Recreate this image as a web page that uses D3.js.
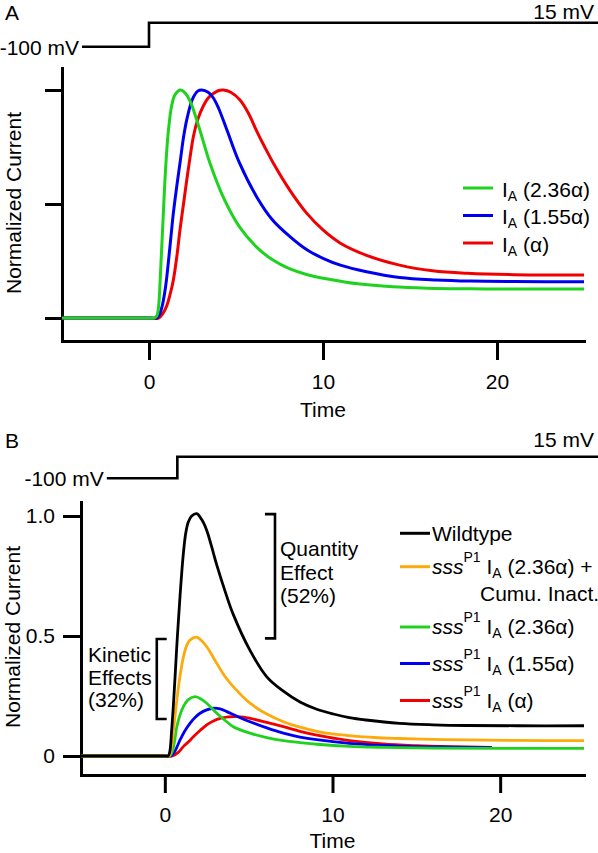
<!DOCTYPE html>
<html><head><meta charset="utf-8">
<script src="https://cdn.jsdelivr.net/npm/d3@7"></script>
<style>
html,body{margin:0;padding:0;background:#fff;}
svg{display:block;font-family:"Liberation Sans",Arial,Helvetica,sans-serif;}
text{white-space:pre;}
</style></head><body>
<svg id="chart" width="598" height="853"></svg>
<script>
// ---------------- DATA ----------------
const xDomain = [-5, 25];
const xTicks = [0, 10, 20];
const yTicks = [0, 0.5, 1];
const yTickLabelsB = ["0", "0.5", "1.0"];

// Panel A: I_A (2.36α), I_A (1.55α), I_A (α)
const tA1 = [-5,-2.5,0,0.3,0.45,0.55,0.65,0.8,0.95,1.1,1.3,1.5,1.82,2.1,2.4,2.9,3.5,4.3,5.2,6.2,7.1,8.1,9.1,10.5,12,14,16,18.5,21,25];
const vA1 = [0,0,0,0,0.01,0.05,0.18,0.42,0.65,0.81,0.93,0.98,1.0,0.985,0.945,0.83,0.68,0.525,0.40,0.31,0.255,0.215,0.19,0.168,0.15,0.137,0.131,0.128,0.127,0.127];
const tA2 = [-5,-2.5,0,0.45,0.6,0.75,0.9,1.0,1.2,1.4,1.6,1.8,2.0,2.2,2.5,2.8,3.03,3.4,3.7,4.0,4.5,5.2,6.2,7.1,8.1,9.1,10,11,12.5,14.4,16.5,18.5,21,25];
const vA2 = [0,0,0,0,0.015,0.05,0.11,0.165,0.31,0.46,0.58,0.69,0.80,0.88,0.96,0.995,1.0,0.99,0.965,0.92,0.82,0.68,0.53,0.43,0.357,0.298,0.262,0.232,0.203,0.178,0.167,0.162,0.16,0.159];
const tA3 = [-5,-2.5,0,0.55,0.8,1.0,1.2,1.4,1.6,1.78,2.0,2.17,2.35,2.55,2.8,3.12,3.4,3.7,4.0,4.27,4.7,5.23,5.7,6.19,6.65,7.14,8.1,9.06,10,11,12.5,14.4,16.3,18.3,21,25];
const vA3 = [0,0,0,0,0.02,0.05,0.10,0.167,0.27,0.386,0.51,0.605,0.70,0.795,0.87,0.93,0.965,0.985,0.998,1.0,0.99,0.956,0.9,0.82,0.75,0.68,0.56,0.46,0.386,0.328,0.275,0.232,0.207,0.196,0.19,0.189];
const legendA = ["(2.36\u03b1)", "(1.55\u03b1)", "(\u03b1)"];

// Panel B: Wildtype, sssP1 IA(2.36α)+Cumu. Inact., sssP1 IA(2.36α), sssP1 IA(1.55α), sssP1 IA(α)
const tB0 = [-5,-2.5,0,0.2,0.3,0.4,0.5,0.61,0.75,0.91,1.1,1.25,1.4,1.6,1.9,2.2,2.5,2.8,3.1,3.6,4.08,5.08,6.08,7.07,8.06,9.06,10.05,11,12,14,16,18,21,25];
const vB0 = [0,0,0,0,0.02,0.1,0.2,0.33,0.5,0.67,0.84,0.93,0.975,1.0,1.01,0.985,0.94,0.87,0.795,0.685,0.59,0.44,0.33,0.27,0.225,0.195,0.175,0.16,0.15,0.136,0.13,0.127,0.126,0.126];
const tB1 = [-5,-2.5,0,0.25,0.4,0.55,0.71,0.9,1.1,1.3,1.5,1.9,2.2,2.5,3.1,3.6,4.08,5.08,6.08,7.07,8.06,9.06,10,11,12.5,14,16,18,21,25];
const vB1 = [0,0,0,0,0.04,0.13,0.23,0.33,0.41,0.46,0.483,0.495,0.48,0.455,0.386,0.33,0.289,0.22,0.175,0.143,0.12,0.103,0.092,0.085,0.077,0.073,0.069,0.067,0.065,0.064];
const tB2 = [-5,-2.5,0,0.3,0.45,0.6,0.71,0.9,1.1,1.4,1.8,2.1,2.5,3.1,3.6,4.08,5.08,6.08,7.07,8.06,9.06,11,13,16,20,25];
const vB2 = [0,0,0,0,0.02,0.07,0.12,0.17,0.205,0.235,0.247,0.24,0.22,0.178,0.148,0.122,0.095,0.077,0.064,0.056,0.049,0.04,0.036,0.033,0.032,0.032];
const tB3 = [-5,-2.5,0,0.35,0.6,0.91,1.2,1.5,1.8,2.1,2.5,2.9,3.3,3.7,4.3,5.08,6.08,7.07,8.06,9.06,11,13,15,17,19.5];
const vB3 = [0,0,0,0,0.02,0.067,0.105,0.136,0.16,0.178,0.192,0.199,0.196,0.185,0.166,0.143,0.117,0.095,0.079,0.068,0.053,0.044,0.039,0.037,0.035];
const tB4 = [-5,-2.5,0,0.45,0.8,1.1,1.4,1.7,2.1,2.5,2.9,3.3,3.8,4.3,4.7,5.08,6.08,7.07,8.06,9.06,10,11,13,15,17,19.5];
const vB4 = [0,0,0,0,0.015,0.039,0.058,0.08,0.106,0.13,0.146,0.157,0.163,0.164,0.162,0.157,0.14,0.122,0.103,0.087,0.075,0.064,0.05,0.043,0.039,0.036];
const legendB = ["(2.36\u03b1) +", "(2.36\u03b1)", "(1.55\u03b1)", "(\u03b1)"];

// Voltage protocol (time, mV)
const protoA_t = [-3.85, 0, 25.9];
const protoB_t = [-3.46, 0.745, 25.9];
const protoV = [-100, 15, 15];

// Brackets (data units)
const quantBracket = { t: 6.57, arm: 5.97, lo: 0.49, hi: 1.008 };
const kinBracket = { t: -0.48, arm: 0.11, lo: 0.154, hi: 0.4875 };
const quantText = ["Quantity", "Effect", "(52%)"];
const kinText = ["Kinetic", "Effects", "(32%)"];

// ---------------- STYLE ----------------
const COL = { green: "#1ed21e", blue: "#0000f0", red: "#f00000", orange: "#fcaa0c", black: "#000" };
const FS = 21;

const svg = d3.select("#chart");
const zip = (t, v) => t.map((d, i) => [d, v[i]]);

function drawAxes(g, x, yFull, xAxisY, yAxisX, tickLen, yTickLen, yFormat) {
  const ax = g.append("g").attr("transform", `translate(0,${xAxisY})`)
    .call(d3.axisBottom(x).tickValues(xTicks).tickSize(tickLen).tickSizeOuter(0).tickPadding(14));
  const ay = g.append("g").attr("transform", `translate(${yAxisX},0)`)
    .call(d3.axisLeft(yFull).tickValues(yTicks).tickSize(yTickLen).tickSizeOuter(0).tickPadding(8)
      .tickFormat(yFormat));
  [ax, ay].forEach(a => {
    a.attr("font-family", null).attr("font-size", null);
    a.select(".domain").attr("stroke", "#000").attr("stroke-width", 3).attr("stroke-linecap", "square");
    a.selectAll(".tick line").attr("stroke", "#000").attr("stroke-width", 3);
    a.selectAll(".tick text").attr("fill", "#000").attr("font-size", FS);
  });
}

function drawProtocol(g, x, vy, ts, labelHighY) {
  const line = d3.line().x(d => x(d[0])).y(d => vy(d[1])).curve(d3.curveStepAfter);
  g.append("path").attr("d", line(zip(ts, protoV))).attr("fill", "none")
    .attr("stroke", "#000").attr("stroke-width", 2.6);
  g.append("text").attr("x", x(ts[0]) - 3).attr("y", vy(-100) + 8).attr("text-anchor", "end")
    .attr("font-size", FS).text("-100 mV");
  g.append("text").attr("x", 594).attr("y", labelHighY).attr("text-anchor", "end")
    .attr("font-size", FS).text("15 mV");
}

function addIA(t, suffix) {
  t.append("tspan").text("I");
  t.append("tspan").attr("font-size", 14).attr("dy", 4).text("A");
  t.append("tspan").attr("dy", -4).text(" " + suffix);
}

const smooth = d3.curveCatmullRom.alpha(0.5);

// ---------------- PANEL A ----------------
{
  const g = svg.append("g");
  const x = d3.scaleLinear().domain(xDomain).range([62, 584]);
  const y = d3.scaleLinear().domain([0, 1]).range([318, 90]);
  const yFull = y.copy().domain([y.invert(341), y.invert(68)]).range([341, 68]);
  const vy = d3.scaleLinear().domain([-100, 15]).range([46.7, 22.7]);

  g.append("text").attr("x", 5).attr("y", 20).attr("font-size", FS).text("A");
  drawProtocol(g, x, vy, protoA_t, 18.5);
  drawAxes(g, x, yFull, 341, 62, 19, 17, () => "");

  g.append("text").attr("transform", "translate(21,203) rotate(-90)").attr("text-anchor", "middle")
    .attr("font-size", FS).text("Normalized Current");
  g.append("text").attr("x", 323).attr("y", 417).attr("text-anchor", "middle")
    .attr("font-size", FS).text("Time");

  const line = d3.line().x(d => x(d[0])).y(d => y(d[1])).curve(smooth);
  const series = [[tA3, vA3, COL.red], [tA2, vA2, COL.blue], [tA1, vA1, COL.green]];
  series.forEach(([t, v, c]) => {
    g.append("path").attr("d", line(zip(t, v))).attr("fill", "none")
      .attr("stroke", c).attr("stroke-width", 3).attr("stroke-linejoin", "round");
  });

  const legCols = [COL.green, COL.blue, COL.red];
  const legY = [188, 215.5, 243];
  legendA.forEach((lab, i) => {
    g.append("line").attr("x1", 463).attr("x2", 493).attr("y1", legY[i]).attr("y2", legY[i])
      .attr("stroke", legCols[i]).attr("stroke-width", 3);
    const t = g.append("text").attr("x", 502).attr("y", legY[i] + 8.5).attr("font-size", FS);
    addIA(t, lab);
  });
}

// ---------------- PANEL B ----------------
{
  const g = svg.append("g");
  const x = d3.scaleLinear().domain(xDomain).range([81, 584]);
  const y = d3.scaleLinear().domain([0, 1]).range([756, 516]);
  const yFull = y.copy().domain([y.invert(775), y.invert(502)]).range([775, 502]);
  const vy = d3.scaleLinear().domain([-100, 15]).range([478.3, 456.7]);

  g.append("text").attr("x", 5).attr("y", 448).attr("font-size", FS).text("B");
  drawProtocol(g, x, vy, protoB_t, 447);
  drawAxes(g, x, yFull, 775, 81, 18, 18, d => yTickLabelsB[yTicks.indexOf(d)]);

  g.append("text").attr("transform", "translate(20,637) rotate(-90)").attr("text-anchor", "middle")
    .attr("font-size", FS).text("Normalized Current");
  g.append("text").attr("x", 332.5).attr("y", 848).attr("text-anchor", "middle")
    .attr("font-size", FS).text("Time");

  const line = d3.line().x(d => x(d[0])).y(d => y(d[1])).curve(smooth);
  const series = [[tB4, vB4, COL.red], [tB3, vB3, COL.blue], [tB2, vB2, COL.green], [tB1, vB1, COL.orange], [tB0, vB0, COL.black]];
  series.forEach(([t, v, c]) => {
    g.append("path").attr("d", line(zip(t, v))).attr("fill", "none")
      .attr("stroke", c).attr("stroke-width", 2.8).attr("stroke-linejoin", "round");
  });

  // brackets
  const bracket = (b) => {
    const p = d3.path();
    p.moveTo(x(b.arm), y(b.hi)); p.lineTo(x(b.t), y(b.hi));
    p.lineTo(x(b.t), y(b.lo)); p.lineTo(x(b.arm), y(b.lo));
    g.append("path").attr("d", p.toString()).attr("fill", "none").attr("stroke", "#000").attr("stroke-width", 2.6);
  };
  bracket(quantBracket); bracket(kinBracket);
  quantText.forEach((s, i) => g.append("text").attr("x", 280).attr("y", 556 + i * 23.5).attr("font-size", FS).text(s));
  kinText.forEach((s, i) => g.append("text").attr("x", 88).attr("y", 662 + i * 22.5).attr("font-size", FS).text(s));

  // legend
  const legY = [533.3, 566.7, 627, 663.5, 700.5];
  const legCols = [COL.black, COL.orange, COL.green, COL.blue, COL.red];
  legY.forEach((ly, i) => {
    g.append("line").attr("x1", 400).attr("x2", 430).attr("y1", ly).attr("y2", ly)
      .attr("stroke", legCols[i]).attr("stroke-width", 3);
  });
  g.append("text").attr("x", 432).attr("y", legY[0] + 7.3).attr("font-size", FS).text("Wildtype");
  legendB.forEach((lab, i) => {
    const t = g.append("text").attr("x", 432).attr("y", legY[i + 1] + 7.3).attr("font-size", FS);
    t.append("tspan").attr("font-style", "italic").text("sss");
    t.append("tspan").attr("font-size", 14).attr("dy", -12).text("P1");
    t.append("tspan").attr("dy", 12).text(" I");
    t.append("tspan").attr("font-size", 14).attr("dy", 4).text("A");
    t.append("tspan").attr("dy", -4).text(" " + lab);
  });
  g.append("text").attr("x", 480).attr("y", 601).attr("font-size", FS).text("Cumu. Inact.");
}
</script>
</body></html>
